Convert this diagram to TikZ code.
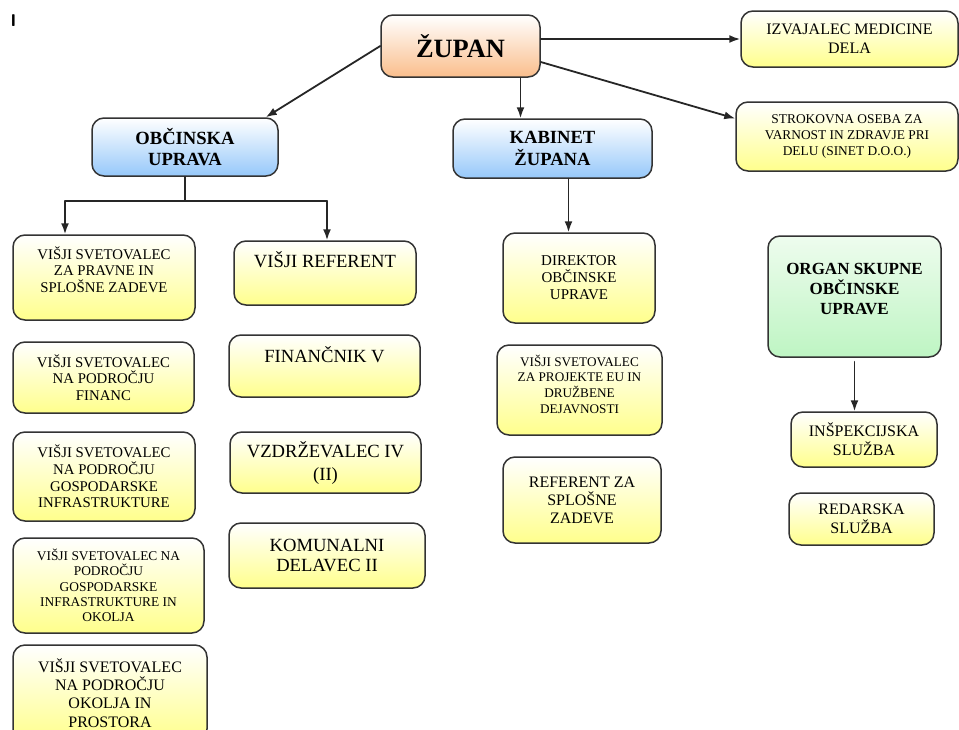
\documentclass[tikz,border=0pt]{standalone}
\usepackage{fontspec}
\setmainfont{Liberation Serif}
\usetikzlibrary{arrows.meta}
\definecolor{boxyellow}{RGB}{255,255,140}
\definecolor{boxblue}{RGB}{150,200,250}
\definecolor{boxorange}{RGB}{250,190,140}
\definecolor{boxgreen}{RGB}{190,245,195}
\definecolor{boxgreentop}{RGB}{238,252,238}
\newcommand{\boxfont}[2]{\fontsize{#1}{#2}\selectfont}

\begin{document}
\begin{tikzpicture}[x=1pt,y=-1pt,>={Latex[length=11pt,width=8pt]},line cap=round,line join=round,
    box/.style={draw=black!80,line width=1.5pt,rounded corners=12pt,align=center,inner sep=2pt},
    ybox/.style={box,top color=white,bottom color=boxyellow},
    bbox/.style={box,top color=white,bottom color=boxblue,font=\boxfont{18.6}{21.5}\bfseries},
    lift/.style={text depth=#1},
    link/.style={draw=black!85,line width=1.8pt}]
    \useasboundingbox (0,0) rectangle (959,729);
    \clip (0,0) rectangle (959,729);
    \def\bar{201}
    % mark
    \node[font=\boxfont{17}{17}\sffamily\bfseries,inner sep=0pt] (mark) at (13.5,20.5) {I};
    % zupan
    \node[box,top color=white,bottom color=boxorange,minimum width=159,minimum height=62,
        font=\boxfont{26.4}{30}\bfseries] (zup) at (460.5,46) {ŽUPAN};
    \node[ybox,minimum width=217,minimum height=56,font=\boxfont{16}{19}] (izv) at (849.5,39)
        {IZVAJALEC MEDICINE\\DELA};
    \node[ybox,minimum width=222,minimum height=69,font=\boxfont{13.4}{16.3}] (str) at (847,136.5)
        {STROKOVNA OSEBA ZA\\VARNOST IN ZDRAVJE PRI\\DELU (SINET D.O.O.)};
    \node[bbox,minimum width=186,minimum height=58] (obc) at (185,147) {OBČINSKA\\UPRAVA};
    \node[bbox,minimum width=199,minimum height=59] (kab) at (552.5,148.5) {KABINET\\ŽUPANA};
    % obcinska uprava
    \node[ybox,lift=16pt,minimum width=182,minimum height=85,font=\boxfont{14.8}{16.7}] (sv1) at (104,277.5)
        {VIŠJI SVETOVALEC\\ZA PRAVNE IN\\SPLOŠNE ZADEVE};
    \node[ybox,minimum width=181,minimum height=71,font=\boxfont{14.8}{16.7}] (sv2) at (103.5,377.5)
        {VIŠJI SVETOVALEC\\NA PODROČJU\\FINANC};
    \node[ybox,minimum width=182,minimum height=89,font=\boxfont{14.8}{16.7}] (sv3) at (104,476.5)
        {VIŠJI SVETOVALEC\\NA PODROČJU\\GOSPODARSKE\\INFRASTRUKTURE};
    \node[ybox,minimum width=191,minimum height=95,font=\boxfont{13.4}{15.4}] (sv4) at (108.5,585.5)
        {VIŠJI SVETOVALEC NA\\PODROČJU\\GOSPODARSKE\\INFRASTRUKTURE IN\\OKOLJA};
    \node[ybox,minimum width=194,minimum height=96,font=\boxfont{16}{18.3}] (sv5) at (110,693)
        {VIŠJI SVETOVALEC\\NA PODROČJU\\OKOLJA IN\\PROSTORA};
    \node[ybox,lift=27pt,minimum width=182,minimum height=64,font=\boxfont{18.6}{21}] (vref) at (325,273)
        {VIŠJI REFERENT};
    \node[ybox,lift=23pt,minimum width=191,minimum height=62,font=\boxfont{18.6}{21}] (fin) at (324.5,366)
        {FINANČNIK V};
    \node[ybox,minimum width=191,minimum height=61,font=\boxfont{18.6}{23}] (vzd) at (325.5,462.5)
        {VZDRŽEVALEC IV\\(II)};
    \node[ybox,minimum width=196,minimum height=65,font=\boxfont{18.6}{20}] (kom) at (327,555.5)
        {KOMUNALNI\\DELAVEC II};
    % kabinet zupana
    \node[ybox,minimum width=152,minimum height=90,font=\boxfont{15}{17}] (dir) at (579,278)
        {DIREKTOR\\OBČINSKE\\UPRAVE};
    \node[ybox,lift=12pt,minimum width=165,minimum height=90,font=\boxfont{13.2}{15.6}] (proj) at (579.5,390)
        {VIŠJI SVETOVALEC\\ZA PROJEKTE EU IN\\DRUŽBENE\\DEJAVNOSTI};
    \node[ybox,minimum width=158,minimum height=86,font=\boxfont{16}{18}] (refz) at (582,500)
        {REFERENT ZA\\SPLOŠNE\\ZADEVE};
    % organ skupne obcinske uprave
    \node[box,lift=16pt,top color=boxgreentop,bottom color=boxgreen,minimum width=173,minimum height=121,
        font=\boxfont{17}{20}\bfseries] (org) at (854.5,296.5) {ORGAN SKUPNE\\OBČINSKE\\UPRAVE};
    \node[ybox,minimum width=146,minimum height=55,font=\boxfont{16}{19}] (insp) at (864,439.5)
        {INŠPEKCIJSKA\\SLUŽBA};
    \node[ybox,minimum width=145,minimum height=52,font=\boxfont{16}{19}] (red) at (861.5,519)
        {REDARSKA\\SLUŽBA};
    % links
    \draw[link,->] (zup.west) -- ([xshift=-13pt]obc.north east);
    \draw[link,->] ([xshift=60pt]zup.south) -- ([xshift=60pt]zup.south |- kab.north);
    \draw[link,->] (zup.east |- izv.west) -- (izv.west);
    \draw[link,->] ([yshift=-16pt]zup.east) -- ([yshift=18pt]str.west);
    \coordinate (lj) at (65,\bar);
    \coordinate (rj) at (327,\bar);
    \draw[link] (obc.south) -- (obc.south |- lj);
    \draw[link] (lj) -- (rj);
    \draw[link,->] (lj) -- (lj |- sv1.north);
    \draw[link,->] (rj) -- (rj |- vref.north);
    \draw[link,->] ([xshift=16pt]kab.south) -- ([xshift=16pt]kab.south |- dir.north);
    \draw[link,->] ([yshift=-4pt]org.south) -- (org.south |- insp.north);
\end{tikzpicture}
\end{document}
